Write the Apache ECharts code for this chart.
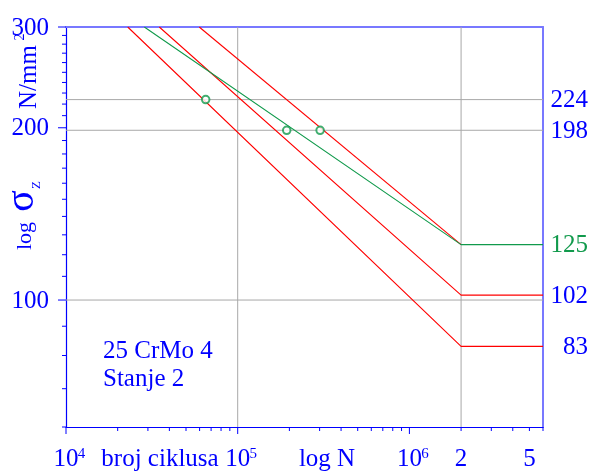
<!DOCTYPE html>
<html>
<head>
<meta charset="utf-8">
<script src="https://cdn.jsdelivr.net/npm/echarts@6/dist/echarts.min.js"></script>
<style>
  html, body { margin: 0; padding: 0; background: #fff; }
  #chart { width: 591px; height: 471px; }
</style>
</head>
<body>
<div id="chart"></div>
<script>
// axis ranges
const X_MIN = 1e4, X_MAX = 6e6, Y_MIN = 60, Y_MAX = 300;

// Woehler lines [N, sigma]
const lineLow = [[22880, 300], [2e6, 83], [6e6, 83]];
const lineMid = [[34940, 300], [2e6, 102], [6e6, 102]];
const lineGreen = [[28580, 300], [2e6, 125], [6e6, 125]];
const lineHigh = [[59700, 300], [2e6, 125]];
const testPoints = [[65100, 224], [193000, 198], [302000, 198]];

// ticks and labels
const xMajorTicks = [1e4, 1e5, 1e6];
const xMinorTicks = [2e4, 3e4, 4e4, 5e4, 6e4, 7e4, 8e4, 9e4,
  2e5, 3e5, 4e5, 5e5, 6e5, 7e5, 8e5, 9e5, 2e6, 3e6, 4e6, 5e6, 6e6];
const xLabelValues = [1e4, 1e5, 1e6, 2e6, 5e6];
const xLabelBase = ['10', '10', '10', '2', '5'];
const xLabelSup = ['4', '5', '6', '', ''];
const yMajorTicks = [100, 200, 300];
const yMinorTicks = [60, 70, 80, 90, 110, 120, 130, 140, 150, 160, 170, 180, 190,
  210, 220, 230, 240, 250, 260, 270, 280, 290];
const yLabelValues = [100, 200, 300];
const rightLabelValues = [224, 198, 125, 102, 83];
const rightGreenValues = [125];
const hGridValues = [224, 198, 100];
const vGridValues = [1e5, 2e6];

const BLUE = '#0000ff';
const LIGHT = '#7878ff';
const RED = '#ff0000';
const GREEN = '#119a4c';
const GRAY = '#a8a8a8';
const SERIF = "'Liberation Serif', 'Times New Roman', serif";

const chart = echarts.init(document.getElementById('chart'));

function hidden(axis) {
  return Object.assign({
    axisTick: { show: false },
    axisLabel: { show: false },
    splitLine: { show: false },
    minorTick: { show: false }
  }, axis);
}

function tickRender(dir, len) {
  return (params, api) => {
    const p = api.coord([api.value(0), api.value(1)]);
    const shape = dir === 'x'
      ? { x1: p[0], y1: p[1], x2: p[0], y2: p[1] + len }
      : { x1: p[0], y1: p[1], x2: p[0] - len, y2: p[1] };
    return { type: 'line', shape, style: { stroke: BLUE, lineWidth: 1 } };
  };
}

function gridRender(dir) {
  return (params, api) => {
    const v = dir === 'v' ? api.value(0) : api.value(1);
    const a = dir === 'v' ? api.coord([v, Y_MIN]) : api.coord([X_MIN, v]);
    const b = dir === 'v' ? api.coord([v, Y_MAX]) : api.coord([X_MAX, v]);
    return { type: 'line', shape: { x1: a[0], y1: a[1], x2: b[0], y2: b[1] },
      style: { stroke: GRAY, lineWidth: 1 } };
  };
}

function lineSeries(data, color) {
  return {
    type: 'line', data, showSymbol: false, z: 3, silent: true,
    lineStyle: { color, width: 1.1 }
  };
}

const custom = (data, renderItem, z) => ({ type: 'custom', data, renderItem, z, silent: true, clip: false });

chart.setOption({
  animation: false,
  grid: { left: 66, right: 48, top: 27, bottom: 44 },
  xAxis: [
    hidden({ type: 'log', logBase: 10, min: X_MIN, max: X_MAX, position: 'bottom',
      axisLine: { onZero: false, lineStyle: { color: BLUE, width: 1.2 } } }),
    hidden({ type: 'log', logBase: 10, min: X_MIN, max: X_MAX, position: 'top',
      axisLine: { onZero: false, lineStyle: { color: LIGHT, width: 2 } } })
  ],
  yAxis: [
    hidden({ type: 'log', logBase: 10, min: Y_MIN, max: Y_MAX, position: 'left',
      axisLine: { onZero: false, lineStyle: { color: BLUE, width: 1.2 } } }),
    hidden({ type: 'log', logBase: 10, min: Y_MIN, max: Y_MAX, position: 'right',
      axisLine: { onZero: false, lineStyle: { color: LIGHT, width: 2 } } })
  ],
  series: [
    custom(vGridValues.map(v => [v, Y_MIN]), gridRender('v'), 1),
    custom(hGridValues.map(v => [X_MIN, v]), gridRender('h'), 1),
    lineSeries(lineLow, RED),
    lineSeries(lineMid, RED),
    lineSeries(lineHigh, RED),
    lineSeries(lineGreen, GREEN),
    {
      type: 'scatter', data: testPoints, symbol: 'emptyCircle', symbolSize: 7.5, z: 4, silent: true,
      itemStyle: { color: GREEN, borderColor: GREEN, borderWidth: 1 }
    },
    custom(xMajorTicks.map(v => [v, Y_MIN]), tickRender('x', 7), 5),
    custom(xMinorTicks.map(v => [v, Y_MIN]), tickRender('x', 4), 5),
    custom(yMajorTicks.map(v => [X_MIN, v]), tickRender('y', 8), 5),
    custom(yMinorTicks.map(v => [X_MIN, v]), tickRender('y', 4), 5),
    // bottom labels: base number with optional superscript exponent
    custom(xLabelValues.map(v => [v, Y_MIN]), (params, api) => {
      const p = api.coord([api.value(0), api.value(1)]);
      const i = params.dataIndex;
      const children = [{ type: 'text', x: p[0], y: p[1] + 32,
        style: { text: xLabelBase[i], fill: BLUE, font: '25px ' + SERIF, align: 'center', verticalAlign: 'middle' } }];
      if (xLabelSup[i]) {
        children.push({ type: 'text', x: p[0] + 15.5, y: p[1] + 27,
          style: { text: xLabelSup[i], fill: BLUE, font: '15px ' + SERIF, align: 'center', verticalAlign: 'middle' } });
      }
      return { type: 'group', children };
    }, 5),
    // left labels
    custom(yLabelValues.map(v => [X_MIN, v]), (params, api) => {
      const p = api.coord([api.value(0), api.value(1)]);
      return { type: 'text', x: p[0] - 17, y: p[1] + 1,
        style: { text: String(api.value(1)), fill: BLUE, font: '25px ' + SERIF, align: 'right', verticalAlign: 'middle' } };
    }, 5),
    // right labels
    custom(rightLabelValues.map(v => [X_MAX, v]), (params, api) => {
      const v = api.value(1);
      const p = api.coord([api.value(0), v]);
      return { type: 'text', x: p[0] + 45, y: p[1] + 1,
        style: { text: String(v), fill: rightGreenValues.includes(v) ? GREEN : BLUE,
          font: '25px ' + SERIF, align: 'right', verticalAlign: 'middle' } };
    }, 5)
  ],
  graphic: [
    { type: 'text', x: 29, y: 77, rotation: Math.PI / 2,
      style: { text: 'N/mm', fill: BLUE, font: '25px ' + SERIF, align: 'center', verticalAlign: 'middle' } },
    { type: 'text', x: 20.5, y: 37, rotation: Math.PI / 2,
      style: { text: '2', fill: BLUE, font: '14px ' + SERIF, align: 'center', verticalAlign: 'middle' } },
    { type: 'text', x: 25, y: 236, rotation: Math.PI / 2,
      style: { text: 'log', fill: BLUE, font: '22px ' + SERIF, align: 'center', verticalAlign: 'middle' } },
    { type: 'text', x: 22, y: 201, rotation: Math.PI / 2,
      style: { text: 'σ', fill: BLUE, font: '40px ' + SERIF, align: 'center', verticalAlign: 'middle' } },
    { type: 'text', x: 37, y: 185, rotation: Math.PI / 2,
      style: { text: 'Z', fill: BLUE, font: '13px ' + SERIF, align: 'center', verticalAlign: 'middle' } },
    { type: 'text', x: 160, y: 459,
      style: { text: 'broj ciklusa', fill: BLUE, font: '25px ' + SERIF, align: 'center', verticalAlign: 'middle' } },
    { type: 'text', x: 327, y: 459,
      style: { text: 'log N', fill: BLUE, font: '25px ' + SERIF, align: 'center', verticalAlign: 'middle' } },
    { type: 'text', x: 103, y: 351,
      style: { text: '25 CrMo 4', fill: BLUE, font: '25px ' + SERIF, align: 'left', verticalAlign: 'middle' } },
    { type: 'text', x: 103, y: 379.5,
      style: { text: 'Stanje 2', fill: BLUE, font: '25px ' + SERIF, align: 'left', verticalAlign: 'middle' } }
  ]
});
</script>
</body>
</html>
